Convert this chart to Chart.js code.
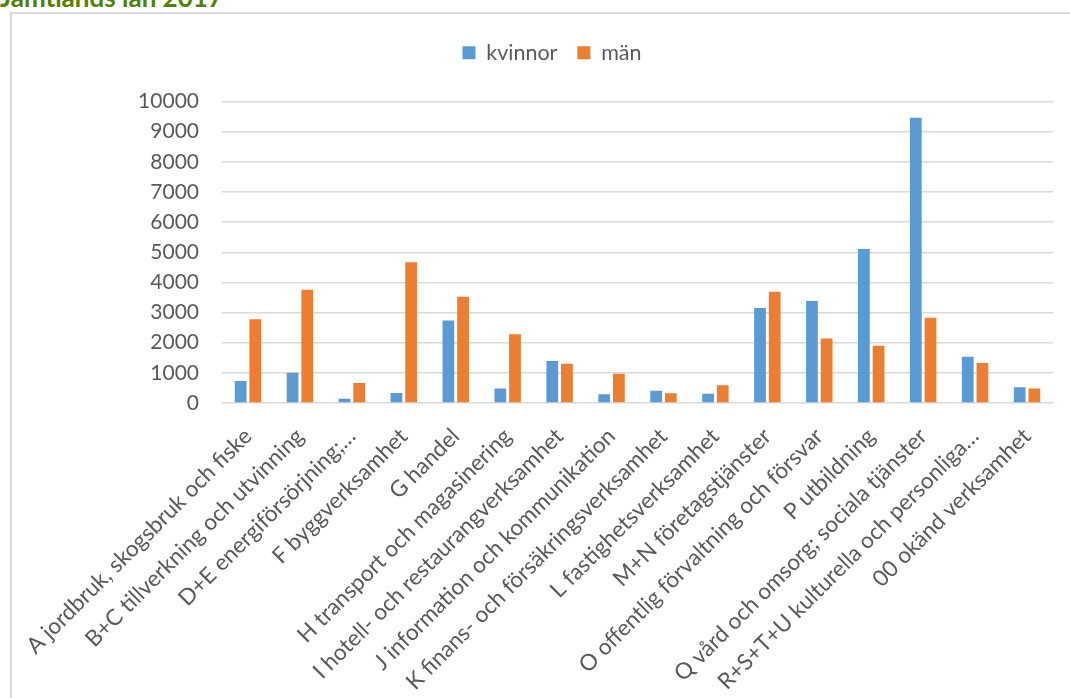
<!DOCTYPE html>
<html>
<head>
<meta charset="utf-8">
<script src="https://cdn.jsdelivr.net/npm/chart.js@4/dist/chart.umd.min.js"></script>
<style>
  html, body { margin: 0; padding: 0; background: #fff; overflow: hidden; width: 1070px; height: 698px; }
  #title { position: absolute; left: 0; top: -19px; font: bold 26px Lato, sans-serif; color: #548000; white-space: nowrap; }
  #frame { position: absolute; left: 10px; top: 12px; width: 1080px; height: 700px; border: 2px solid #d9d9d9; background: #fff; }
  #chart { display: block; }
</style>
</head>
<body>
<div id="title">Jämtlands län 2017</div>
<div id="frame"><canvas id="chart" width="1080" height="690"></canvas></div>
<script>
// Förvärvsarbetande per bransch och kön
const branscher = [
  'A jordbruk, skogsbruk och fiske',
  'B+C tillverkning och utvinning',
  'D+E energiförsörjning;…',
  'F byggverksamhet',
  'G handel',
  'H transport och magasinering',
  'I hotell- och restaurangverksamhet',
  'J information och kommunikation',
  'K finans- och försäkringsverksamhet',
  'L fastighetsverksamhet',
  'M+N företagstjänster',
  'O offentlig förvaltning och försvar',
  'P utbildning',
  'Q vård och omsorg; sociala tjänster',
  'R+S+T+U kulturella och personliga…',
  '00 okänd verksamhet'
];
const kvinnor = [730, 1000, 140, 330, 2740, 480, 1390, 290, 410, 310, 3150, 3380, 5110, 9460, 1530, 520];
const man     = [2780, 3760, 660, 4670, 3520, 2280, 1300, 970, 320, 590, 3690, 2140, 1900, 2830, 1330, 480];
const yTicks  = [0, 1000, 2000, 3000, 4000, 5000, 6000, 7000, 8000, 9000, 10000];

const textColor = '#595959';
const fontFamily = 'Lato, "Open Sans", sans-serif';
const rightPad = 39;

// extra luft under legenden, och legenden centrerad över hela ramen
const legendSpace = {
  id: 'legendSpace',
  beforeInit(chart) {
    const fit = chart.legend.fit;
    chart.legend.fit = function () {
      fit.call(this);
      this.height += 28;
    };
  },
  afterLayout(chart) {
    chart.legend.right += rightPad;
    chart.legend.width += rightPad;
  }
};

new Chart(document.getElementById('chart'), {
  type: 'bar',
  data: {
    labels: branscher,
    datasets: [
      { label: 'kvinnor', data: kvinnor, backgroundColor: '#5b9bd5', categoryPercentage: 0.565, barPercentage: 0.8 },
      { label: 'män', data: man, backgroundColor: '#ed7d31', categoryPercentage: 0.565, barPercentage: 0.8 }
    ]
  },
  plugins: [legendSpace],
  options: {
    responsive: false,
    animation: false,
    layout: { padding: { top: 8, right: rightPad, left: 0, bottom: 0 } },
    plugins: {
      legend: {
        position: 'top',
        labels: {
          color: textColor,
          font: { family: fontFamily, size: 21.5 },
          boxWidth: 13,
          boxHeight: 13,
          padding: 20
        }
      },
      tooltip: { enabled: false }
    },
    scales: {
      x: {
        grid: { display: false },
        border: { display: false },
        ticks: {
          color: textColor,
          font: { family: fontFamily, size: 22.5 },
          maxRotation: 45,
          minRotation: 45,
          autoSkip: false,
          padding: 12
        },
        afterFit: s => { s.height = 301; }
      },
      y: {
        min: 0,
        max: 10000,
        afterBuildTicks: s => { s.ticks = yTicks.map(v => ({ value: v })); },
        grid: { color: '#d9d9d9', lineWidth: 1.5, drawTicks: false },
        border: { display: false },
        ticks: {
          color: textColor,
          font: { family: fontFamily, size: 21 },
          padding: 23,
          callback: v => String(v)
        },
        afterFit: s => { s.width = 210; }
      }
    }
  }
});
</script>
</body>
</html>
